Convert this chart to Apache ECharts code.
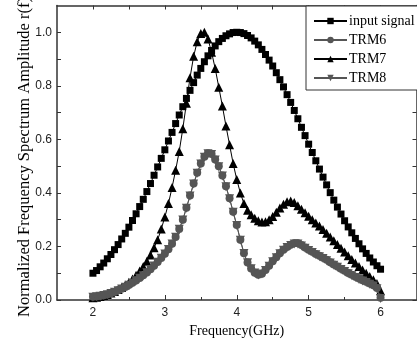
<!DOCTYPE html>
<html>
<head>
<meta charset="utf-8">
<script src="https://cdn.jsdelivr.net/npm/echarts@6/dist/echarts.min.js"></script>
<style>
html,body{margin:0;padding:0;background:#fff;}
#chart{width:417px;height:346px;}
</style>
</head>
<body>
<div id="chart"></div>
<script>
const freq = [2.00,2.05,2.10,2.15,2.20,2.25,2.30,2.35,2.40,2.45,2.50,2.55,2.60,2.65,2.70,2.75,2.80,2.85,2.90,2.95,
3.00,3.05,3.10,3.15,3.20,3.25,3.30,3.35,3.40,3.45,3.50,3.55,3.60,3.65,3.70,3.75,3.80,3.85,3.90,3.95,
4.00,4.05,4.10,4.15,4.20,4.25,4.30,4.35,4.40,4.45,4.50,4.55,4.60,4.65,4.70,4.75,4.80,4.85,4.90,4.95,
5.00,5.05,5.10,5.15,5.20,5.25,5.30,5.35,5.40,5.45,5.50,5.55,5.60,5.65,5.70,5.75,5.80,5.85,5.90,5.95,6.00];

const inputSignal = [0.100,0.110,0.124,0.138,0.154,0.170,0.188,0.207,0.228,0.249,0.272,0.297,0.322,0.349,0.376,0.405,0.435,0.466,0.497,0.529,
0.561,0.594,0.626,0.659,0.691,0.722,0.753,0.783,0.812,0.840,0.865,0.890,0.912,0.932,0.949,0.965,0.977,0.987,0.994,0.999,
1.000,0.999,0.995,0.988,0.979,0.967,0.953,0.936,0.917,0.896,0.874,0.849,0.823,0.796,0.767,0.738,0.708,0.677,0.645,0.614,
0.582,0.551,0.520,0.489,0.459,0.430,0.401,0.373,0.347,0.321,0.296,0.273,0.251,0.230,0.210,0.191,0.174,0.157,0.142,0.128,0.115];

const trm6 = [0.012,0.013,0.015,0.018,0.021,0.025,0.030,0.036,0.042,0.049,0.056,0.064,0.073,0.082,0.092,0.103,0.115,0.128,0.142,0.157,
0.173,0.190,0.210,0.235,0.265,0.300,0.345,0.390,0.435,0.475,0.510,0.535,0.548,0.545,0.525,0.500,0.465,0.425,0.380,0.330,
0.280,0.225,0.175,0.140,0.118,0.102,0.094,0.098,0.112,0.128,0.145,0.160,0.175,0.188,0.198,0.206,0.212,0.212,0.205,0.196,
0.188,0.180,0.172,0.165,0.158,0.150,0.141,0.133,0.125,0.117,0.109,0.101,0.094,0.087,0.080,0.074,0.068,0.062,0.055,0.045,0.008];

const trm7 = [0.008,0.010,0.013,0.017,0.021,0.026,0.032,0.039,0.047,0.056,0.066,0.078,0.092,0.108,0.125,0.145,0.168,0.195,0.225,0.265,
0.310,0.360,0.420,0.485,0.555,0.640,0.735,0.830,0.910,0.965,0.995,1.000,0.975,0.925,0.865,0.795,0.725,0.650,0.580,0.510,
0.450,0.400,0.360,0.335,0.318,0.305,0.296,0.291,0.292,0.300,0.312,0.328,0.344,0.358,0.367,0.370,0.364,0.352,0.339,0.326,
0.313,0.300,0.288,0.276,0.263,0.249,0.235,0.221,0.207,0.193,0.179,0.165,0.151,0.138,0.125,0.112,0.100,0.088,0.076,0.062,0.035];

const trm8 = [0.010,0.012,0.014,0.017,0.020,0.024,0.029,0.035,0.041,0.048,0.055,0.063,0.072,0.081,0.091,0.102,0.114,0.127,0.141,0.156,
0.172,0.189,0.209,0.234,0.264,0.299,0.343,0.388,0.433,0.473,0.508,0.533,0.546,0.543,0.523,0.498,0.463,0.423,0.378,0.328,
0.278,0.223,0.174,0.139,0.117,0.101,0.093,0.097,0.110,0.126,0.143,0.158,0.173,0.186,0.196,0.204,0.209,0.209,0.202,0.193,
0.185,0.177,0.169,0.162,0.155,0.147,0.138,0.130,0.122,0.114,0.106,0.098,0.091,0.084,0.077,0.071,0.065,0.059,0.052,0.042,0.006];

const seriesNames = ['input signal','TRM6','TRM7','TRM8'];
const xAxisTitle = 'Frequency(GHz)';
const yAxisTitle = 'Normalized Frequency Spectrum Amplitude r(f)';
const xMajorTicks = [2,3,4,5,6];
const xMinorTicks = [2.5,3.5,4.5,5.5];
const xAllTicks = [2,2.5,3,3.5,4,4.5,5,5.5,6];
const yLabelTicks = [0,0.2,0.4,0.6,0.8,1.0];
const yAllTicks = [0,0.1,0.2,0.3,0.4,0.5,0.6,0.7,0.8,0.9,1.0];

const pair = arr => freq.map((f, i) => [f, arr[i]]);
const axisLineStyle = {color: '#333', width: 1.5};
const tickFont = {fontFamily: 'Liberation Sans, Arial, sans-serif', fontSize: 12, color: '#222'};
const serif = 'Liberation Serif, Times New Roman, serif';

const chart = echarts.init(document.getElementById('chart'), null, {renderer: 'canvas'});
chart.setOption({
  animation: false,
  backgroundColor: '#fff',
  grid: {left: 57, top: 5.5, width: 359.5, height: 294.5},
  graphic: [{
    type: 'text', x: 25, y: 157, rotation: Math.PI / 2,
    style: {text: yAxisTitle, font: '16.5px ' + serif, fill: '#000', align: 'center', verticalAlign: 'middle'}
  }],
  legend: {
    orient: 'vertical',
    left: 306, top: 6,
    backgroundColor: '#fff',
    borderColor: '#333', borderWidth: 1,
    padding: [8, 4, 5, 7],
    itemGap: 5,
    itemWidth: 33, itemHeight: 8,
    textStyle: {fontFamily: serif, fontSize: 14, color: '#000', padding: [0,0,0,-3]},
    data: seriesNames
  },
  xAxis: [
    {
      type: 'value', position: 'bottom', min: 1.5, max: 6.5,
      name: xAxisTitle, nameLocation: 'middle', nameGap: 22,
      nameTextStyle: {fontFamily: serif, fontSize: 14, color: '#000'},
      axisLine: {show: true, onZero: false, lineStyle: axisLineStyle},
      axisTick: {show: true, inside: true, length: 5, customValues: xMajorTicks, lineStyle: {color: '#333'}},
      axisLabel: {show: true, customValues: xMajorTicks, margin: 7, formatter: v => String(v), ...tickFont},
      splitLine: {show: false}
    },
    {
      type: 'value', position: 'bottom', min: 1.5, max: 6.5,
      axisLine: {show: false, onZero: false},
      axisTick: {show: true, inside: true, length: 3, customValues: xMinorTicks, lineStyle: {color: '#333'}},
      axisLabel: {show: false},
      splitLine: {show: false}
    },
    {
      type: 'value', position: 'top', min: 1.5, max: 6.5,
      axisLine: {show: true, onZero: false, lineStyle: axisLineStyle},
      axisTick: {show: true, inside: true, length: 4, customValues: xAllTicks, lineStyle: {color: '#333'}},
      axisLabel: {show: false},
      splitLine: {show: false}
    }
  ],
  yAxis: [
    {
      type: 'value', position: 'left', min: 0, max: 1.1,
      axisLine: {show: true, onZero: false, lineStyle: axisLineStyle},
      axisTick: {show: true, inside: true, length: 4, customValues: yAllTicks, lineStyle: {color: '#333'}},
      axisLabel: {show: true, customValues: yLabelTicks, margin: 5, formatter: v => v.toFixed(1), ...tickFont},
      splitLine: {show: false}
    },
    {
      type: 'value', position: 'right', min: 0, max: 1.1,
      axisLine: {show: true, onZero: false, lineStyle: axisLineStyle},
      axisTick: {show: true, inside: true, length: 4, customValues: yAllTicks, lineStyle: {color: '#333'}},
      axisLabel: {show: false},
      splitLine: {show: false}
    }
  ],
  series: [
    {name: seriesNames[0], type: 'line', data: pair(inputSignal), symbol: 'rect', symbolSize: 7,
     color: '#000', lineStyle: {width: 1, color: '#000'}, itemStyle: {color: '#000'}, z: 2},
    {name: seriesNames[1], type: 'line', data: pair(trm6), symbol: 'circle', symbolSize: 8,
     color: '#555', lineStyle: {width: 1, color: '#555'}, itemStyle: {color: '#555'}, z: 3},
    {name: seriesNames[2], type: 'line', data: pair(trm7), symbol: 'triangle', symbolSize: 9,
     color: '#000', lineStyle: {width: 1, color: '#000'}, itemStyle: {color: '#000'}, z: 2},
    {name: seriesNames[3], type: 'line', data: pair(trm8), symbol: 'triangle', symbolRotate: 180, symbolSize: 9,
     color: '#555', lineStyle: {width: 1, color: '#555'}, itemStyle: {color: '#555'}, z: 4}
  ]
});
</script>
</body>
</html>
